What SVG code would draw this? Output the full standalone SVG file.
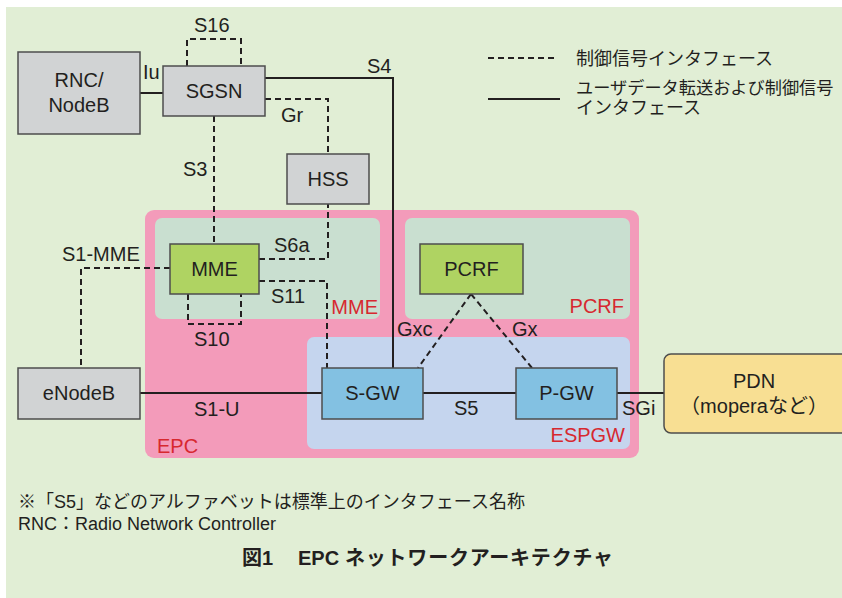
<svg xmlns="http://www.w3.org/2000/svg" width="842" height="598" viewBox="0 0 842 598">
  <style>
    text { font-family: "Liberation Sans", "Noto Sans CJK JP", sans-serif; fill: #231f20; }
    .lbl { font-size: 20px; }
    .mid { text-anchor: middle; }
    .red { fill: #d7282f; font-size: 20px; }
    .jp { font-size: 18px; }
    .node { stroke: #4d4d4d; stroke-width: 1.5; }
    .gray { fill: #d1d3d4; }
    .green { fill: #afd362; }
    .blue { fill: #83c1e2; }
    .solid { fill: none; stroke: #231f20; stroke-width: 2; }
    .dash { fill: none; stroke: #231f20; stroke-width: 2; stroke-dasharray: 6 4; }
  </style>

  <!-- page background -->
  <rect x="6" y="7" width="836" height="591" fill="#e1eed5"/>

  <!-- EPC domain and its sub-areas -->
  <g id="epc">
    <rect x="145" y="210" width="494" height="248" rx="9" fill="#f39bba"/>
    <rect x="155" y="218" width="225" height="101" rx="7" fill="#c9dfd0"/>
    <rect x="405" y="218" width="225" height="101" rx="7" fill="#c9dfd0"/>
    <rect x="307" y="337" width="323" height="112" rx="7" fill="#c5d5ee"/>
    <text class="red" x="157" y="453">EPC</text>
    <text class="red" x="378" y="314" text-anchor="end">MME</text>
    <text class="red" x="624" y="313" text-anchor="end">PCRF</text>
    <text class="red" x="625" y="442" text-anchor="end">ESPGW</text>
  </g>

  <!-- connectors -->
  <g id="connectors">
    <path class="solid" d="M140,93 H163"/>
    <path class="dash" d="M187,66 V39 H241 V66"/>
    <path class="solid" d="M265,78 H393 V368"/>
    <path class="dash" d="M265,99 H328 V154"/>
    <path class="dash" d="M214,116 V244"/>
    <path class="dash" d="M259,259 H328 V204"/>
    <path class="dash" d="M259,281 H327 V368"/>
    <path class="dash" d="M170,268 H81 V368"/>
    <path class="dash" d="M188,294 V324 H241 V294"/>
    <path class="solid" d="M140,393 H322"/>
    <path class="solid" d="M423,393 H516"/>
    <path class="solid" d="M617,393 H664"/>
    <path class="dash" d="M471,294 L418,368"/>
    <path class="dash" d="M471,294 L532,368"/>

    <text class="lbl" x="143" y="79">Iu</text>
    <text class="lbl" x="194" y="32">S16</text>
    <text class="lbl" x="367" y="73">S4</text>
    <text class="lbl" x="281" y="122">Gr</text>
    <text class="lbl" x="183" y="176">S3</text>
    <text class="lbl" x="62" y="261">S1-MME</text>
    <text class="lbl" x="274" y="252">S6a</text>
    <text class="lbl" x="271" y="303">S11</text>
    <text class="lbl" x="194" y="346">S10</text>
    <text class="lbl" x="194" y="416">S1-U</text>
    <text class="lbl" x="397" y="336">Gxc</text>
    <text class="lbl" x="512" y="336">Gx</text>
    <text class="lbl" x="454" y="415">S5</text>
    <text class="lbl" x="622" y="415">SGi</text>
  </g>

  <!-- nodes -->
  <g id="rnc-nodeb">
    <rect class="node gray" x="18" y="52" width="122" height="82"/>
    <text class="lbl mid" x="79" y="87">RNC/</text>
    <text class="lbl mid" x="79" y="112">NodeB</text>
  </g>
  <g id="sgsn">
    <rect class="node gray" x="163" y="66" width="102" height="50"/>
    <text class="lbl mid" x="214" y="98">SGSN</text>
  </g>
  <g id="hss">
    <rect class="node gray" x="287" y="154" width="82" height="50"/>
    <text class="lbl mid" x="328" y="186">HSS</text>
  </g>
  <g id="mme">
    <rect class="node green" x="170" y="244" width="89" height="50"/>
    <text class="lbl mid" x="214.5" y="276">MME</text>
  </g>
  <g id="pcrf">
    <rect class="node green" x="420" y="244" width="103" height="50"/>
    <text class="lbl mid" x="471.5" y="276">PCRF</text>
  </g>
  <g id="enodeb">
    <rect class="node gray" x="18" y="368" width="122" height="51"/>
    <text class="lbl mid" x="79" y="400">eNodeB</text>
  </g>
  <g id="s-gw">
    <rect class="node blue" x="322" y="368" width="101" height="51"/>
    <text class="lbl mid" x="372.5" y="400">S-GW</text>
  </g>
  <g id="p-gw">
    <rect class="node blue" x="516" y="368" width="101" height="51"/>
    <text class="lbl mid" x="566.5" y="400">P-GW</text>
  </g>
  <g id="pdn">
    <rect class="node" x="664" y="354" width="190" height="79" rx="7" fill="#f8df93"/>
    <text class="lbl mid" x="754" y="388">PDN</text>
    <text class="lbl mid" x="754" y="413">（moperaなど）</text>
  </g>

  <!-- legend -->
  <g id="legend">
    <path class="dash" d="M488,58 H558"/>
    <path class="solid" d="M488,99 H560"/>
    <text class="jp" x="576" y="65">制御信号インタフェース</text>
    <text x="576" y="94" font-size="17.2">ユーザデータ転送および制御信号</text>
    <text class="jp" x="576" y="114">インタフェース</text>
  </g>

  <!-- notes and caption -->
  <text class="jp" x="18" y="508">※「S5」などのアルファベットは標準上のインタフェース名称</text>
  <text class="jp" x="18" y="530">RNC：Radio Network Controller</text>
  <text font-size="20" font-weight="bold" y="565">
    <tspan x="242">図1</tspan>
    <tspan x="298">EPC</tspan>
    <tspan x="345" textLength="268" lengthAdjust="spacing">ネットワークアーキテクチャ</tspan>
  </text>
</svg>
